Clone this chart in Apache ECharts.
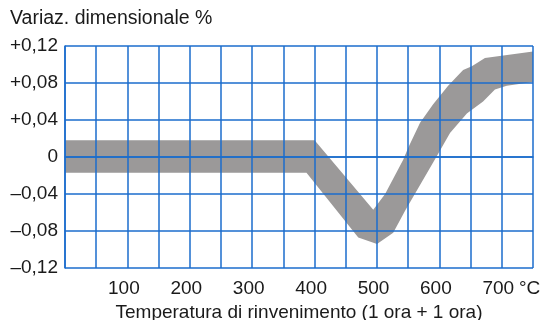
<!DOCTYPE html>
<html>
<head>
<meta charset="utf-8">
<title>Variazione dimensionale</title>
<script src="https://cdn.jsdelivr.net/npm/echarts@6/dist/echarts.min.js"></script>
<style>
  html, body { margin: 0; padding: 0; background: #ffffff; }
  #chart { width: 542px; height: 320px; }
</style>
</head>
<body>
<div id="chart"></div>
<script>
// Tempering temperature (°C) and dimensional change (%) band limits
const upperTemp = [0, 400, 494, 513, 542, 550, 569, 590, 614, 638, 652, 673, 750];
const upperVal  = [0.018, 0.018, -0.057, -0.040, -0.003, 0.010, 0.037, 0.057, 0.077, 0.094, 0.098, 0.107, 0.114];
const lowerTemp = [0, 387, 470, 500, 526, 545, 596, 617, 644, 670, 689, 708, 750];
const lowerVal  = [-0.017, -0.017, -0.087, -0.094, -0.082, -0.058, 0.001, 0.026, 0.047, 0.060, 0.073, 0.077, 0.081];

// Axis ticks
const xTickLabels = { 100: '100', 200: '200', 300: '300', 400: '400', 500: '500', 600: '600', 700: '700' };
const yTickLabels = ['–0,12', '–0,08', '–0,04', '0', '+0,04', '+0,08', '+0,12'];

const FONT = '"Liberation Sans", Arial, Helvetica, sans-serif';
const GRID_BLUE = '#1b6dcc';
const BAND_GREY = '#9b9999';

const upperPts = upperTemp.map((t, i) => [t, upperVal[i]]);
const lowerPts = lowerTemp.map((t, i) => [t, lowerVal[i]]);
const outline = upperPts.concat(lowerPts.slice().reverse());

const chart = echarts.init(document.getElementById('chart'), null, { renderer: 'canvas' });

chart.setOption({
  animation: false,
  backgroundColor: '#ffffff',
  textStyle: { fontFamily: FONT },
  grid: { left: 65, right: 9, top: 46, bottom: 52, containLabel: false, outerBoundsMode: 'none' },
  graphic: [
    {
      type: 'text', left: 10, top: 9, z: 10,
      style: { text: 'Variaz. dimensionale %', font: '19.5px ' + FONT, fill: '#1a1a1a' }
    },
    {
      type: 'text', left: 519, top: 279, z: 10,
      style: { text: '°C', font: '19px ' + FONT, fill: '#1a1a1a' }
    }
  ],
  xAxis: {
    type: 'value', min: 0, max: 750, interval: 50, z: 5,
    name: 'Temperatura di rinvenimento (1 ora + 1 ora)',
    nameLocation: 'middle', nameGap: 34,
    nameTextStyle: { fontSize: 19, color: '#1a1a1a', fontFamily: FONT },
    axisLine: { show: true, lineStyle: { color: GRID_BLUE, width: 1.5 } },
    axisTick: { show: false },
    axisLabel: {
      fontSize: 19, color: '#1a1a1a', fontFamily: FONT, margin: 11,
      padding: [0, 7, 0, 0],
      showMinLabel: true, showMaxLabel: true,
      formatter: v => xTickLabels[Math.round(v)] || ''
    },
    splitLine: { show: true, showMinLine: true, showMaxLine: true, lineStyle: { color: GRID_BLUE, width: 1.5 } }
  },
  yAxis: {
    type: 'value', min: -0.12, max: 0.12, interval: 0.04, z: 5,
    axisLine: { show: true, lineStyle: { color: GRID_BLUE, width: 1.5 } },
    axisTick: { show: false },
    axisLabel: {
      fontSize: 19, color: '#1a1a1a', fontFamily: FONT, margin: 7,
      formatter: v => yTickLabels[Math.round((v + 0.12) / 0.04)]
    },
    splitLine: { show: true, showMinLine: true, showMaxLine: true, lineStyle: { color: GRID_BLUE, width: 1.5 } }
  },
  series: [
    {
      // Tolerance band: closed polygon along upper limit then back along lower limit
      type: 'custom',
      z: 1,
      silent: true,
      data: outline,
      encode: { x: 0, y: 1 },
      renderItem: function (params, api) {
        if (params.dataIndex !== 0) return null;
        const points = outline.map(p => api.coord(p));
        return {
          type: 'polygon',
          shape: { points: points },
          style: { fill: BAND_GREY, stroke: null }
        };
      }
    }
  ]
});
</script>
</body>
</html>
